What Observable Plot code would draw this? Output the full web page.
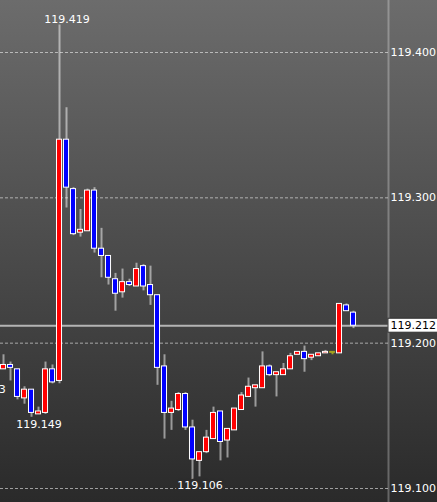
<!DOCTYPE html>
<html><head><meta charset="utf-8">
<script src="https://cdn.jsdelivr.net/npm/d3@7"></script>
<script src="https://cdn.jsdelivr.net/npm/@observablehq/plot@0.6"></script>
<style>html,body{margin:0;padding:0;background:#2a2a2a;} svg{display:block;}</style>
</head><body><div id="chart"></div>
<script>
// Candle data (index = candle order, left to right)
const opens  = [119.182,119.185,119.182,119.162,119.168,119.151,119.152,119.182,119.174,119.340,
                119.306,119.276,119.277,119.305,119.265,119.260,119.244,119.235,119.242,119.239,
                119.253,119.240,119.233,119.184,119.152,119.154,119.165,119.142,119.119,119.125,
                119.134,119.153,119.133,119.140,119.154,119.163,119.169,119.169,119.184,119.178,
                119.178,119.182,119.192,119.194,119.190,119.191,119.193,119.194,119.193,119.226,119.221];
const highs  = [119.192,119.187,119.182,119.170,119.168,119.156,119.187,119.185,119.419,119.362,
                119.307,119.292,119.306,119.307,119.279,119.260,119.248,119.251,119.244,119.255,
                119.254,119.253,119.233,119.192,119.160,119.166,119.166,119.147,119.125,119.140,
                119.156,119.153,119.141,119.155,119.166,119.176,119.171,119.194,119.185,119.180,
                119.186,119.193,119.194,119.198,119.192,119.193,119.195,119.194,119.227,119.227,119.222];
const lows   = [119.182,119.174,119.161,119.158,119.149,119.151,119.151,119.172,119.172,119.293,
                119.274,119.273,119.277,119.262,119.245,119.240,119.222,119.231,119.239,119.239,
                119.236,119.226,119.171,119.134,119.140,119.153,119.140,119.106,119.108,119.124,
                119.134,119.119,119.121,119.140,119.154,119.163,119.156,119.169,119.177,119.163,
                119.178,119.182,119.192,119.180,119.188,119.191,119.193,119.192,119.193,119.222,119.210];
const closes = [119.185,119.183,119.163,119.168,119.152,119.153,119.182,119.173,119.340,119.307,
                119.275,119.278,119.305,119.265,119.260,119.245,119.234,119.242,119.240,119.251,
                119.239,119.233,119.183,119.152,119.155,119.165,119.142,119.120,119.125,119.135,
                119.152,119.132,119.141,119.155,119.164,119.170,119.171,119.184,119.178,119.180,
                119.182,119.191,119.194,119.189,119.192,119.193,119.194,119.194,119.227,119.222,119.212];

const yTicks = [119.100, 119.200, 119.300, 119.400];
const lastPrice = 119.212;
// High / low annotations (candle index, value, side)
const extremeIdx   = [8, 4, 27, -4];
const extremeVals  = [119.419, 119.149, 119.106, 119.173];
const extremeSides = ["high", "low", "low", "low"];
const extremeHalo  = [false, false, true, false];

const fmt = d3.format(".3f");
const candles = opens.map((o, i) => ({i, open: o, high: highs[i], low: lows[i], close: closes[i]}));
const colored = candles.filter(d => d.close !== d.open);
const flat = candles.filter(d => d.close === d.open);
const extremes = extremeIdx.map((i, k) => ({i, value: extremeVals[k], side: extremeSides[k], halo: extremeHalo[k]}));

const xDomain = [-0.43, 55];
const xEdge = xDomain[1];

const chart = Plot.plot({
  width: 437,
  height: 502,
  marginLeft: 0,
  marginRight: 49,
  marginTop: 0,
  marginBottom: 0,
  x: {domain: xDomain, axis: null},
  y: {domain: [119.1, 119.4], range: [488, 52], axis: "right", ticks: yTicks,
      tickFormat: fmt, tickSize: 0, tickPadding: 2, label: null},
  style: {
    background: "linear-gradient(to bottom, #6c6c6c, #2a2a2a)",
    fontFamily: "DejaVu Sans, Verdana, sans-serif",
    fontSize: "11px",
    color: "white",
    overflow: "visible"
  },
  marks: [
    Plot.ruleY(yTicks, {stroke: "white", strokeOpacity: 0.55, strokeDasharray: "3,2", strokeWidth: 1}),
    Plot.ruleY([lastPrice], {stroke: "#b4b4b4", strokeWidth: 2}),
    Plot.ruleX([xEdge], {stroke: "white", strokeOpacity: 0.28, strokeWidth: 2}),
    Plot.ruleX(colored, {x: "i", y1: "low", y2: "high", stroke: "white", strokeOpacity: 0.5, strokeWidth: 2}),
    Plot.ruleX(flat, {x: "i", y1: "low", y2: "high", stroke: "#a3a31e", strokeWidth: 2}),
    Plot.rect(colored, {
      x1: d => d.i - 0.36, x2: d => d.i + 0.36,
      y1: "open", y2: "close",
      fill: d => d.close > d.open ? "#ff0000" : "#0000ff",
      stroke: "white", strokeWidth: 1
    }),
    Plot.ruleY(flat, {y: "close", x1: d => d.i - 0.42, x2: d => d.i + 0.42, stroke: "#a3a31e", strokeWidth: 2}),
    Plot.text(extremes.filter(d => d.side === "high"), {
      x: "i", y: "value", text: d => fmt(d.value), dx: 7.5, dy: -5,
      fill: "white", fontSize: 11
    }),
    Plot.text(extremes.filter(d => d.side === "low" && !d.halo), {
      x: "i", y: "value", text: d => fmt(d.value), dx: 7.5, dy: 7.5,
      fill: "white", fontSize: 11
    }),
    Plot.text(extremes.filter(d => d.side === "low" && d.halo), {
      x: "i", y: "value", text: d => fmt(d.value), dx: 7.5, dy: 6,
      fill: "white", stroke: "#2c2c2c", strokeWidth: 5, fontSize: 11
    }),
    Plot.rect([lastPrice], {
      x1: () => xEdge, x2: () => xEdge + 7.5,
      y1: d => d - 0.0048, y2: d => d + 0.0048,
      fill: "white", stroke: "#333", strokeWidth: 1
    }),
    Plot.text([lastPrice], {
      x: () => xEdge, y: d => d, text: d => fmt(d), dx: 2, textAnchor: "start",
      fill: "black", fontSize: 11
    })
  ]
});
document.getElementById("chart").appendChild(chart);
</script>
</body></html>
